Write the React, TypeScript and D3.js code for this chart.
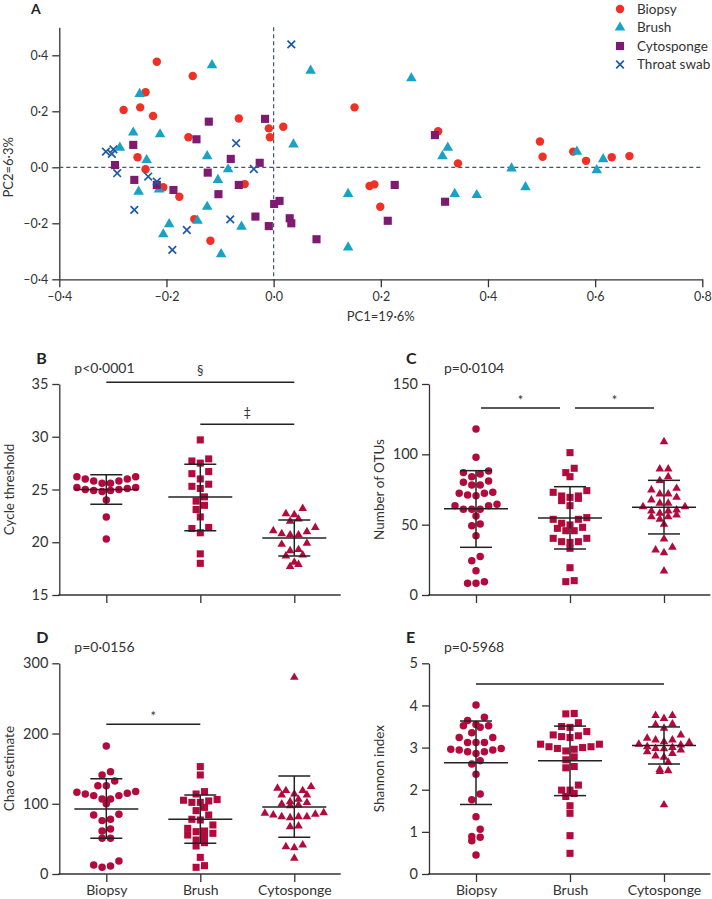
import React, { useEffect, useRef } from "react";
import * as d3 from "d3";

const W = 712;
const H = 899;

// ---- panel A: principal coordinates [PC1, PC2]
const biopsyPC = [
  [-0.218, 0.377], [-0.151, 0.326], [-0.239, 0.268], [-0.28, 0.205], [-0.249, 0.214],
  [-0.225, 0.183], [-0.065, 0.174], [-0.009, 0.139], [0.018, 0.145], [-0.007, 0.107],
  [-0.159, 0.107], [-0.254, 0.036], [-0.239, -0.007], [-0.206, -0.071], [-0.176, -0.105],
  [-0.054, -0.06], [-0.148, -0.185], [-0.118, -0.262], [0.151, 0.214], [0.307, 0.129],
  [0.344, 0.014], [0.179, -0.067], [0.188, -0.061], [0.199, -0.141], [0.497, 0.092],
  [0.502, 0.038], [0.559, 0.056], [0.583, 0.023], [0.631, 0.036], [0.664, 0.04],
];
const brushPC = [
  [-0.115, 0.365], [-0.25, 0.262], [-0.262, 0.124], [-0.212, 0.118], [-0.287, 0.07],
  [-0.124, 0.04], [-0.237, 0.026], [-0.085, -0.007], [-0.104, -0.045], [-0.252, -0.087],
  [-0.214, -0.079], [-0.124, -0.141], [-0.142, -0.191], [-0.195, -0.203], [-0.206, -0.239],
  [-0.06, -0.212], [-0.098, -0.31], [0.069, 0.345], [0.037, 0.082], [0.139, -0.095],
  [0.139, -0.286], [0.257, 0.318], [0.325, 0.07], [0.315, 0.04], [0.338, -0.095],
  [0.379, -0.099], [0.444, -0.004], [0.47, -0.071], [0.566, 0.056], [0.615, 0.029],
  [0.603, -0.01],
];
const cytoPC = [
  [-0.121, 0.163], [-0.016, 0.173], [-0.144, 0.1], [-0.262, 0.08], [-0.296, 0.008],
  [-0.08, 0.03], [-0.026, 0.016], [-0.123, -0.019], [-0.26, -0.045], [-0.218, -0.063],
  [-0.187, -0.081], [-0.065, -0.063], [-0.103, -0.096], [0.011, -0.12], [0.001, -0.131],
  [-0.034, -0.176], [-0.009, -0.21], [0.03, -0.182], [0.033, -0.2], [0.08, -0.257],
  [0.301, 0.115], [0.226, -0.063], [0.32, -0.123], [0.213, -0.191],
];
const swabPC = [
  [0.033, 0.439], [-0.07, 0.086], [-0.313, 0.056], [-0.299, 0.064], [-0.302, 0.048],
  [-0.292, -0.021], [-0.234, -0.033], [-0.218, -0.051], [-0.037, -0.006], [-0.26, -0.152],
  [-0.162, -0.224], [-0.081, -0.186], [-0.189, -0.295],
];
const pcaGroups = ["Biopsy", "Brush", "Cytosponge", "Throat swab"];
const pcaTicksX = [-0.4, -0.2, 0, 0.2, 0.4, 0.6, 0.8];
const pcaTicksY = [-0.4, -0.2, 0, 0.2, 0.4];

// ---- panels B-E
const categories = ["Biopsy", "Brush", "Cytosponge"];

const ctBiopsy = [26.2, 26.2, 26.0, 26.0, 25.8, 25.8, 25.6, 25.6, 25.2, 25.2, 25.0, 25.0, 24.9, 24.9, 25.1, 24.8, 24.0, 22.4, 20.3];
const ctBrush = [29.7, 27.7, 27.9, 27.5, 26.7, 26.5, 26.0, 25.5, 25.3, 25.1, 24.3, 23.9, 23.5, 23.1, 22.4, 21.3, 21.4, 20.9, 18.9, 18.0];
const ctCyto = [22.7, 22.2, 22.0, 22.6, 23.2, 21.1, 20.8, 20.7, 20.7, 21.0, 21.4, 19.9, 19.8, 18.8, 19.3, 19.2, 18.7, 18.1, 17.7, 17.9];
const ctStats = [[25.0, 23.6, 26.4], [24.3, 21.1, 27.4], [20.4, 18.7, 22.1]];

const otuBiopsy = [118, 97.9, 88.2, 86, 87, 84.1, 80.1, 81.1, 78.2, 78.2, 73, 72.3, 70.6, 71.1, 72.3, 63.5, 60.9, 60.9, 60.9, 63.5, 64.5, 56.2, 50.5, 49.3, 42.2, 27.3, 24.4, 17.3, 9.5, 8.3, 8.3];
const otuBrush = [101.2, 90.1, 84.1, 87, 74.2, 70.4, 68.7, 67.1, 63.5, 69.4, 70.4, 73, 53.8, 51, 47.4, 45.7, 45.7, 48.1, 49.8, 53.8, 55, 40.3, 37.9, 33.2, 37.4, 37.9, 40.3, 19.4, 9.5, 10.2];
const otuCyto = [109, 89.6, 89.6, 81.3, 84.1, 74.7, 71.8, 67.5, 69.4, 71.8, 75.8, 65.2, 62.8, 59.7, 59.7, 60.4, 62.8, 65.2, 58.1, 55.7, 53.8, 50.2, 55.7, 56.9, 39.8, 32, 33.9, 30.1, 17.1];
const otuStats = [[61.4, 33.9, 88.4], [54.7, 32.7, 77.0], [62.4, 43.4, 81.5]];

const chaoBiopsy = [182.3, 145.7, 141, 132.4, 125.8, 125.8, 116.3, 117.3, 113.9, 111.6, 106.8, 100, 106.8, 111.6, 114.9, 84, 85, 76, 77.9, 64.1, 61.2, 50.8, 50.8, 18.5, 12.8, 9.5, 11.4];
const chaoBrush = [152.9, 141, 117.3, 113.9, 105, 102, 102, 104, 106, 94.9, 90.2, 84, 76.9, 77.9, 69.8, 65, 57.9, 61.2, 52.2, 60.3, 48.4, 55.5, 44.6, 39.9, 23.7, 9.5, 11.9];
const chaoCyto = [280, 118.7, 122, 124.4, 118.7, 113.9, 112.5, 106.3, 112.5, 103, 98.3, 99.7, 97.3, 101.6, 85, 81.6, 81.6, 86.4, 87.3, 80.2, 81.6, 84, 67.4, 68.4, 38.9, 41.3, 37.5, 22.3];
const chaoStats = [[92.6, 50.8, 135.5], [77.9, 43.7, 112.5], [95.4, 52.2, 139.6]];

const shanBiopsy = [4.01, 3.72, 3.64, 3.52, 3.48, 3.55, 3.52, 3.35, 3.24, 3.12, 3.12, 3.12, 3.24, 2.94, 2.9, 2.86, 2.98, 2.9, 2.94, 2.96, 2.69, 2.61, 2.37, 1.9, 1.76, 1.36, 1.06, 0.87, 0.79, 0.89, 0.45];
const shanBrush = [3.8, 3.81, 3.59, 3.5, 3.48, 3.38, 3.28, 3.24, 3.26, 3.3, 3.08, 3.02, 2.98, 2.96, 2.92, 3.0, 3.02, 3.08, 2.71, 2.78, 2.52, 2.55, 1.99, 1.91, 1.84, 1.99, 2.11, 1.62, 1.44, 0.91, 0.49];
const shanCyto = [3.76, 3.76, 3.69, 3.56, 3.46, 3.54, 3.22, 3.3, 3.14, 3.18, 3.08, 3.06, 3.12, 3.18, 2.97, 2.86, 2.9, 2.98, 3.02, 2.94, 3.0, 2.77, 2.8, 2.65, 2.45, 2.43, 2.48, 1.64];
const shanStats = [[2.64, 1.65, 3.63], [2.69, 1.86, 3.51], [3.05, 2.61, 3.49]];

// [from, to, level, mark]
const ctBars = [[0, 2, 35.16, "§"], [1, 2, 31.18, "‡"]];
const otuBars = [[0, 1, 132.9, "*"], [1, 2, 132.9, "*"]];
const chaoBars = [[0, 1, 213.3, "*"]];
const shanBars = [[0, 2, 4.51, ""]];

const pcaColors = ["#ee3124", "#17a2c6", "#7e1a70", "#1f5aa6"];
const dotColor = "#b3093c";
const ink = "#333";

const dotPanels = [
  { letter: "B", p: "p<0·0001", title: "Cycle threshold", values: [ctBiopsy, ctBrush, ctCyto], stats: ctStats, bars: ctBars, domain: [15, 35], ticks: [15, 20, 25, 30, 35], col: 0, row: 0, inset: [0, 0], labels: false },
  { letter: "C", p: "p=0·0104", title: "Number of OTUs", values: [otuBiopsy, otuBrush, otuCyto], stats: otuStats, bars: otuBars, domain: [0, 150], ticks: [0, 50, 100, 150], col: 1, row: 0, inset: [5, 10], labels: false },
  { letter: "D", p: "p=0·0156", title: "Chao estimate", values: [chaoBiopsy, chaoBrush, chaoCyto], stats: chaoStats, bars: chaoBars, domain: [0, 300], ticks: [0, 100, 200, 300], col: 0, row: 1, inset: [0, 0], labels: true },
  { letter: "E", p: "p=0·5968", title: "Shannon index", values: [shanBiopsy, shanBrush, shanCyto], stats: shanStats, bars: shanBars, domain: [0, 5], ticks: [0, 1, 2, 3, 4, 5], col: 1, row: 1, inset: [0, 0], labels: true },
];

const fmt1 = (d: number) => d3.format(".1f")(d).replace(".", "·").replace("−", "–").replace("-", "–");

function styleAxis(g: any, size: number) {
  g.selectAll("path").attr("stroke", ink).attr("stroke-width", 1.3);
  g.selectAll("line").attr("stroke", ink).attr("stroke-width", 1.3);
  g.selectAll("text").attr("fill", ink).attr("font-size", size).attr("font-family", "Lato, 'Open Sans', sans-serif");
}

// Prism-like row layout: points close in value share a row
function swarm(vals: number[], y: (v: number) => number, cx: number, bin: number, gap: number) {
  const sorted = [...vals].sort((a, b) => b - a);
  const out: { x: number; y: number }[] = [];
  let i = 0;
  while (i < sorted.length) {
    const y0 = y(sorted[i]);
    let j = i;
    while (j < sorted.length && y(sorted[j]) - y0 < bin) j++;
    const row = sorted.slice(i, j).sort((a, b) => a - b);
    const n = row.length;
    const slots = d3.range(n).map((k) => (k - (n - 1) / 2) * gap).sort((a, b) => Math.abs(a) - Math.abs(b) || a - b);
    row.forEach((v, k) => out.push({ x: cx + slots[k], y: y(v) }));
    i = j;
  }
  return out;
}

function drawPCA(svg: any) {
  const x = d3.scaleLinear().domain([-0.4, 0.8]).range([59.3, 702.3]);
  const y = d3.scaleLinear().domain([-0.4, 0.5]).range([279.3, 27.3]);
  const g = svg.append("g");

  g.append("text").attr("x", 31).attr("y", 14).attr("font-size", 14).attr("font-weight", 700).attr("fill", "#222").text("A");

  const ax = g.append("g").attr("transform", `translate(0,${y(-0.4)})`)
    .call(d3.axisBottom(x).tickValues(pcaTicksX).tickFormat(fmt1 as any).tickSize(8).tickSizeOuter(0).tickPadding(5));
  styleAxis(ax, 12.5);
  const ay = g.append("g").attr("transform", `translate(${x(-0.4)},0)`)
    .call(d3.axisLeft(y).tickValues(pcaTicksY).tickFormat(fmt1 as any).tickSize(7).tickSizeOuter(0).tickPadding(4));
  styleAxis(ay, 12.5);

  g.append("text").attr("x", (x(-0.4) + x(0.8)) / 2).attr("y", 321).attr("text-anchor", "middle")
    .attr("font-size", 13).attr("fill", ink).text("PC1=19·6%");
  g.append("text").attr("transform", `translate(13,${y(0)}) rotate(-90)`).attr("text-anchor", "middle")
    .attr("font-size", 13).attr("fill", ink).text("PC2=6·3%");

  g.append("line").attr("x1", x(-0.4)).attr("x2", x(0.8)).attr("y1", y(0)).attr("y2", y(0))
    .attr("stroke", "#3e5766").attr("stroke-width", 1.2).attr("stroke-dasharray", "4,3");
  g.append("line").attr("x1", x(0)).attr("x2", x(0)).attr("y1", y(0.5)).attr("y2", y(-0.4))
    .attr("stroke", "#3e5766").attr("stroke-width", 1.2).attr("stroke-dasharray", "4,3");

  const sets = [biopsyPC, brushPC, cytoPC, swabPC];
  const types = [d3.symbolCircle, d3.symbolTriangle, d3.symbolSquare];
  const sizes = [56, 48, 66];
  sets.forEach((pts, gi) => {
    if (gi < 3) {
      const sym = d3.symbol().type(types[gi]).size(sizes[gi]);
      g.append("g").selectAll("path").data(pts).enter().append("path")
        .attr("d", sym as any)
        .attr("transform", (d: number[]) => `translate(${x(d[0])},${y(d[1])})`)
        .attr("fill", pcaColors[gi]);
    } else {
      const s = 3.8;
      g.append("g").selectAll("path").data(pts).enter().append("path")
        .attr("d", (d: number[]) => {
          const cx = x(d[0]), cy = y(d[1]);
          return `M${cx - s},${cy - s}L${cx + s},${cy + s}M${cx - s},${cy + s}L${cx + s},${cy - s}`;
        })
        .attr("stroke", pcaColors[3]).attr("stroke-width", 1.7).attr("fill", "none");
    }
  });

  // legend
  const lg = g.append("g");
  pcaGroups.forEach((name, i) => {
    const ly = 9 + i * 18.5;
    if (i < 3) {
      lg.append("path").attr("d", d3.symbol().type(types[i]).size(sizes[i])() as string)
        .attr("transform", `translate(620,${ly})`).attr("fill", pcaColors[i]);
    } else {
      const s = 3.8;
      lg.append("path").attr("d", `M${620 - s},${ly - s}L${620 + s},${ly + s}M${620 - s},${ly + s}L${620 + s},${ly - s}`)
        .attr("stroke", pcaColors[3]).attr("stroke-width", 1.7);
    }
    lg.append("text").attr("x", 637).attr("y", ly).attr("dy", "0.35em").attr("font-size", 13.5).attr("fill", ink).text(name);
  });
}

function drawDots(svg: any, p: any) {
  const ax0 = p.col === 0 ? 59.3 : 429;
  const yr = p.row === 0 ? [595, 384] : [874, 663.3];
  const x = d3.scalePoint().domain(categories).range([ax0 + 47, ax0 + 235]);
  const y = d3.scaleLinear().domain(p.domain).range(yr);
  const g = svg.append("g");

  g.append("text").attr("x", ax0 - 23).attr("y", yr[1] - 20).attr("font-size", 16).attr("font-weight", 700).attr("fill", "#222").text(p.letter);
  g.append("text").attr("x", ax0 + 15).attr("y", yr[1] - 11).attr("font-size", 14).attr("fill", ink).text(p.p);

  const ay = g.append("g").attr("transform", `translate(${ax0},0)`)
    .call(d3.axisLeft(y).tickValues(p.ticks).tickFormat(d3.format("d") as any).tickSize(7).tickSizeOuter(0).tickPadding(4));
  styleAxis(ay, 14.5);

  const axb = g.append("g").attr("transform", `translate(0,${yr[0]})`)
    .call(d3.axisBottom(x).tickSize(8).tickSizeOuter(0).tickPadding(3));
  axb.select(".domain").remove();
  if (!p.labels) axb.selectAll("text").remove();
  styleAxis(axb, 14);
  g.append("line").attr("x1", ax0 - 1).attr("x2", ax0 + 281.4).attr("y1", yr[0]).attr("y2", yr[0])
    .attr("stroke", ink).attr("stroke-width", 1.3);

  g.append("text").attr("transform", `translate(${ax0 - 50},${(yr[0] + yr[1]) / 2}) rotate(-90)`)
    .attr("text-anchor", "middle").attr("dy", "0.35em").attr("font-size", 13.5).attr("fill", ink).text(p.title);

  const types = [d3.symbolCircle, d3.symbolSquare, d3.symbolTriangle];
  const sizes = [44, 50, 32];
  categories.forEach((c, ci) => {
    const pts = swarm(p.values[ci], y, x(c) as number, 7.5, 8.4);
    const sym = d3.symbol().type(types[ci]).size(sizes[ci]);
    g.append("g").selectAll("path").data(pts).enter().append("path")
      .attr("d", sym as any)
      .attr("transform", (d: any) => `translate(${d.x},${d.y})`)
      .attr("fill", dotColor);

    const [m, lo, hi] = p.stats[ci];
    const cx = x(c) as number;
    const eg = g.append("g").attr("stroke", "#222").attr("stroke-width", 1.5);
    eg.append("line").attr("x1", cx - 32).attr("x2", cx + 32).attr("y1", y(m)).attr("y2", y(m));
    eg.append("line").attr("x1", cx).attr("x2", cx).attr("y1", y(lo)).attr("y2", y(hi));
    eg.append("line").attr("x1", cx - 16).attr("x2", cx + 16).attr("y1", y(lo)).attr("y2", y(lo));
    eg.append("line").attr("x1", cx - 16).attr("x2", cx + 16).attr("y1", y(hi)).attr("y2", y(hi));
  });

  p.bars.forEach((b: any[]) => {
    const x1 = (x(categories[b[0]]) as number) + p.inset[0];
    const x2 = (x(categories[b[1]]) as number) - p.inset[1];
    const by = y(b[2]);
    g.append("line").attr("x1", x1).attr("x2", x2).attr("y1", by).attr("y2", by).attr("stroke", "#222").attr("stroke-width", 1.4);
    if (b[3]) {
      const star = b[3] === "*";
      g.append("text").attr("x", (x1 + x2) / 2).attr("y", by - (star ? 3 : 7)).attr("text-anchor", "middle")
        .attr("font-size", 13).attr("fill", ink).text(b[3]);
    }
  });
}

export default function App() {
  const ref = useRef<SVGSVGElement>(null);
  useEffect(() => {
    const svg = d3.select(ref.current);
    svg.selectAll("*").remove();
    drawPCA(svg);
    dotPanels.forEach((p) => drawDots(svg, p));
  }, []);
  return (
    <svg
      ref={ref}
      width={W}
      height={H}
      fontFamily="Lato, 'Open Sans', sans-serif"
      style={{ position: "absolute", left: 0, top: 0, background: "#fff" }}
    />
  );
}
